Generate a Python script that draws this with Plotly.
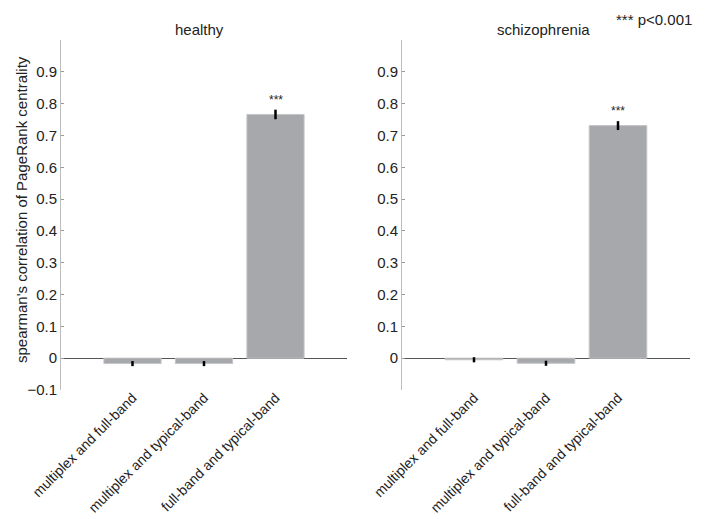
import plotly.graph_objects as go
from plotly.subplots import make_subplots

categories = ["multiplex and full-band", "multiplex and typical-band", "full-band and typical-band"]
healthy_vals = [-0.017, -0.017, 0.766]
healthy_err = [0.008, 0.008, 0.015]
schizo_vals = [-0.005, -0.016, 0.731]
schizo_err = [0.008, 0.008, 0.014]
panel_titles = ["healthy", "schizophrenia"]
ytick_vals = [-0.1, 0, 0.1, 0.2, 0.3, 0.4, 0.5, 0.6, 0.7, 0.8, 0.9]
ytick_text_left = ["\u22120.1", "0", "0.1", "0.2", "0.3", "0.4", "0.5", "0.6", "0.7", "0.8", "0.9"]
ytick_text_right = ["", "0", "0.1", "0.2", "0.3", "0.4", "0.5", "0.6", "0.7", "0.8", "0.9"]
sig_marks = ["", "", "***"]

W, H = 711, 519
OFF = 8  # page body margin
FONT = "Liberation Sans, Arial, sans-serif"
BAR_COLOR = "#a7a8ab"
FS = 15

fig = make_subplots(rows=1, cols=2)

xs = [0, 1, 2]
for col, (vals, errs) in enumerate([(healthy_vals, healthy_err), (schizo_vals, schizo_err)], start=1):
    fig.add_trace(go.Bar(
        x=xs, y=vals, width=0.8,
        marker=dict(color=BAR_COLOR, line=dict(color="#c4c5c7", width=1)),
        error_y=dict(type="data", array=errs, color="black", thickness=2.5, width=0),
        showlegend=False,
    ), row=1, col=col)
    for i, s in enumerate(sig_marks):
        if s:
            fig.add_annotation(x=xs[i], y=vals[i] + errs[i], text=s, showarrow=False,
                               yanchor="bottom", yshift=1, font=dict(size=12, color="#222", family=FONT),
                               xref=f"x{'' if col == 1 else col}", yref=f"y{'' if col == 1 else col}")

def px_x(p):
    return (p - OFF) / W

def px_y(p):
    return 1 - (p - OFF) / H

ydom = [px_y(390), px_y(40)]
xdoms = [[px_x(61), px_x(347)], [px_x(402), px_x(690)]]
title_x = [200, 543]

for col in (1, 2):
    fig.update_xaxes(
        domain=xdoms[col - 1], range=[-1, 3], tickvals=xs, ticktext=categories,
        tickangle=-45, showline=False, showgrid=False, zeroline=False, ticks="",
        automargin=False, ticklabelstandoff=-4,
        tickfont=dict(size=14, color="#222", family=FONT), row=1, col=col)
    fig.update_yaxes(
        domain=ydom, range=[-0.1, 1.0], tickvals=ytick_vals,
        ticktext=ytick_text_left if col == 1 else ytick_text_right,
        showline=True, linecolor="#bdbdbd", linewidth=1, showgrid=False,
        zeroline=True, zerolinecolor="#555", zerolinewidth=1.3,
        ticks="inside", ticklen=3, tickcolor="#999", automargin=False,
        tickfont=dict(size=FS, color="#222", family=FONT), row=1, col=col)

for i, t in enumerate(panel_titles):
    fig.add_annotation(x=px_x(title_x[i]), y=px_y(29), xref="paper", yref="paper", text=t, showarrow=False,
                       font=dict(size=FS, color="#222", family=FONT), xanchor="center", yanchor="middle")

fig.add_annotation(x=px_x(21), y=px_y(210), xref="paper", yref="paper",
                   text="spearman's correlation of PageRank centrality", textangle=-90,
                   showarrow=False, font=dict(size=FS, color="#222", family=FONT),
                   xanchor="center", yanchor="middle")
fig.add_annotation(x=px_x(694), y=px_y(9), xref="paper", yref="paper",
                   text="*** p<0.001", showarrow=False, font=dict(size=FS, color="#222", family=FONT),
                   xanchor="right", yanchor="top")

fig.update_layout(width=W, height=H, margin=dict(l=0, r=0, t=0, b=0),
                  plot_bgcolor="white", paper_bgcolor="white", bargap=0.2)
fig.write_html("out.html")
